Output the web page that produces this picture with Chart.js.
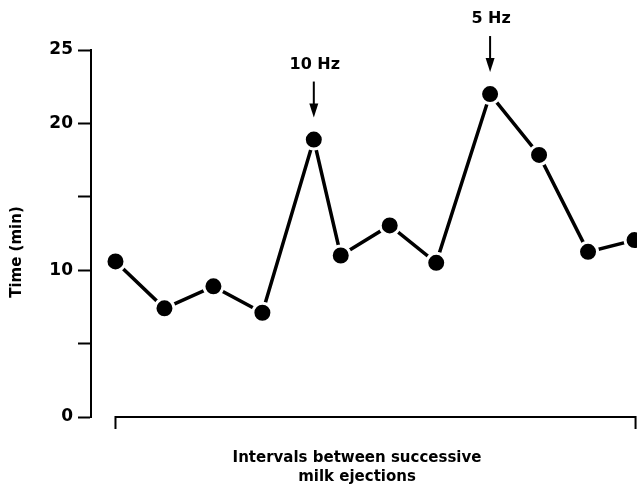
<!DOCTYPE html>
<html>
<head>
<meta charset="utf-8">
<script src="https://cdn.jsdelivr.net/npm/chart.js@4.4.0/dist/chart.umd.min.js"></script>
<style>
  html, body { margin: 0; padding: 0; background: #fff; }
  #wrap { width: 637px; height: 487px; }
</style>
</head>
<body>
<div id="wrap"><canvas id="chart" width="637" height="487"></canvas></div>
<script>
// position of each interval along the (unlabelled) x axis, and its length in minutes
const intervalPos = [0, 1, 2, 3, 4.05, 4.6, 5.6, 6.55, 7.65, 8.65, 9.65, 10.6];
const timeMin = [10.6, 7.4, 8.9, 7.1, 18.9, 11.0, 13.05, 10.5, 22.0, 17.85, 11.25, 12.05];

const yTicks = [0, 5, 10, 15, 20, 25];
const yTickLabels = ['0', '', '10', '', '20', '25'];

// stimulation marks (arrows) above points
const stimIndex = [4, 8];
const stimLabels = ['10 Hz', '5 Hz'];

const yTitle = 'Time (min)';
const xTitle = ['Intervals between successive', 'milk ejections'];

const FONT = '"DejaVu Sans", "Liberation Sans", sans-serif';

const extras = {
  id: 'extras',
  afterDraw(chart) {
    const { ctx, scales: { x, y } } = chart;
    ctx.save();
    ctx.strokeStyle = '#000';
    ctx.fillStyle = '#000';

    // x axis: plain line under the points with end ticks
    const y0 = y.getPixelForValue(0);
    const xa = x.getPixelForValue(intervalPos[0]);
    const xb = x.getPixelForValue(intervalPos[intervalPos.length - 1]) + 1;
    ctx.lineWidth = 2;
    ctx.beginPath();
    ctx.moveTo(xa, y0 + 12);
    ctx.lineTo(xa, y0);
    ctx.lineTo(xb, y0);
    ctx.lineTo(xb, y0 + 12);
    ctx.stroke();

    // arrows + labels
    ctx.font = 'bold 16px ' + FONT;
    ctx.textAlign = 'center';
    ctx.textBaseline = 'middle';
    stimIndex.forEach((idx, k) => {
      const px = x.getPixelForValue(intervalPos[idx]);
      const py = y.getPixelForValue(timeMin[idx]);
      ctx.lineWidth = 2;
      ctx.beginPath();
      ctx.moveTo(px, py - 58);
      ctx.lineTo(px, py - 32);
      ctx.stroke();
      ctx.beginPath();
      ctx.moveTo(px - 4.5, py - 36);
      ctx.lineTo(px + 4.5, py - 36);
      ctx.lineTo(px, py - 22);
      ctx.closePath();
      ctx.fill();
      ctx.fillText(stimLabels[k], px + 1, py - 75);
    });

    // y title
    ctx.font = 'bold 15px ' + FONT;
    ctx.save();
    ctx.translate(17, 252);
    ctx.rotate(-Math.PI / 2);
    ctx.fillText(yTitle, 0, 0);
    ctx.restore();

    // x title
    ctx.fillText(xTitle[0], 357, 458);
    ctx.fillText(xTitle[1], 357, 477);
    ctx.restore();
  }
};

new Chart(document.getElementById('chart').getContext('2d'), {
  type: 'line',
  data: {
    datasets: [{
      data: intervalPos.map((p, i) => ({ x: p, y: timeMin[i] })),
      borderColor: '#000',
      borderWidth: 3.5,
      pointRadius: 9.5,
      pointBackgroundColor: '#000',
      pointBorderColor: '#fff',
      pointBorderWidth: 3,
      tension: 0,
      clip: false
    }]
  },
  options: {
    responsive: false,
    animation: false,
    events: [],
    layout: { autoPadding: false, padding: { top: 50, bottom: 70, left: 0, right: 0 } },
    plugins: {
      legend: { display: false },
      tooltip: { enabled: false }
    },
    scales: {
      x: {
        type: 'linear',
        display: false,
        min: -0.5,
        max: 10.65
      },
      y: {
        min: 0,
        max: 25,
        afterBuildTicks: (scale) => { scale.ticks = yTicks.map(v => ({ value: v })); },
        afterFit: (scale) => { scale.width = 91; },
        border: { display: true, color: '#000', width: 2 },
        grid: {
          drawOnChartArea: false,
          drawTicks: true,
          tickLength: 13,
          tickWidth: 2,
          tickColor: '#000'
        },
        ticks: {
          color: '#000',
          padding: 5,
          font: { family: FONT, size: 17, weight: 'bold' },
          callback: (v) => yTickLabels[yTicks.indexOf(v)]
        }
      }
    }
  },
  plugins: [extras]
});
</script>
</body>
</html>
